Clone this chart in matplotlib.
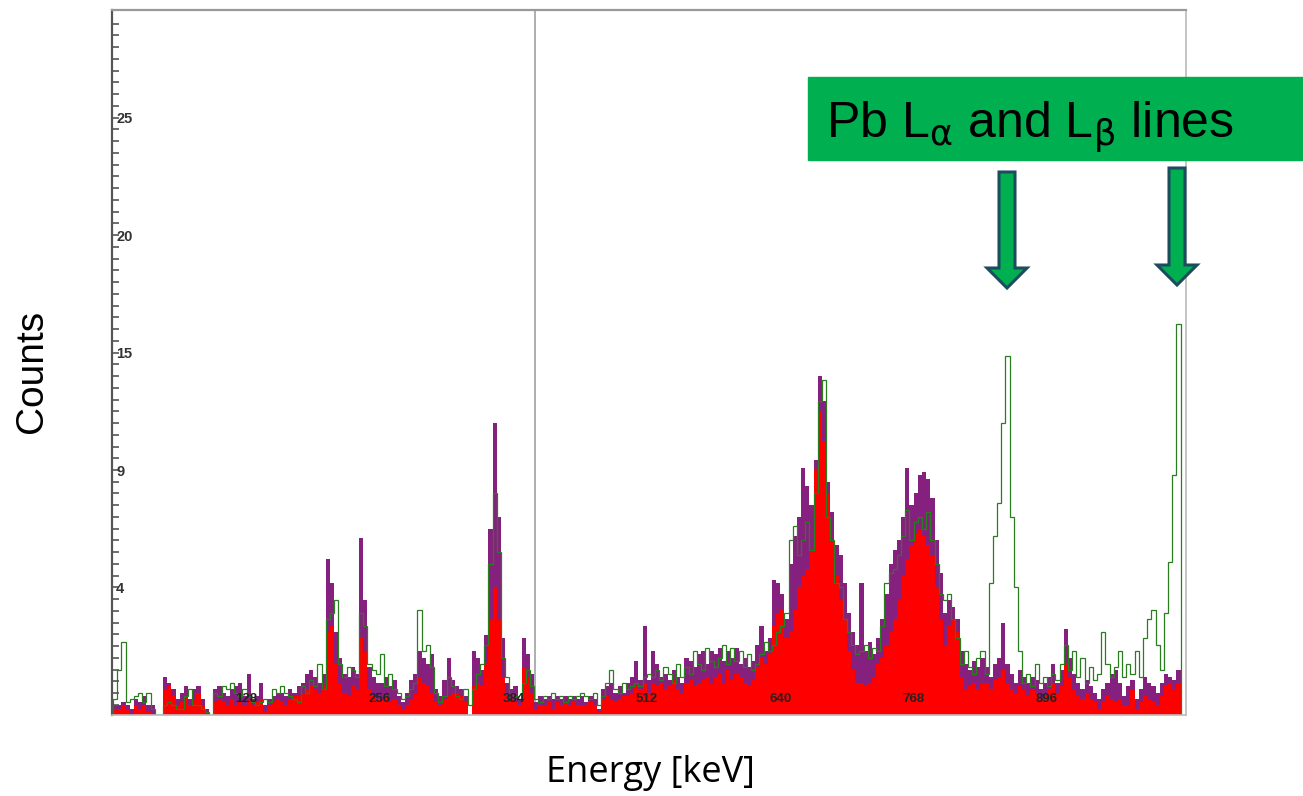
import numpy as np
import matplotlib
matplotlib.use('Agg')
import matplotlib.pyplot as plt
from matplotlib.patches import Rectangle, FancyArrow

plt.rcParams['font.family'] = ['Liberation Sans', 'DejaVu Sans']
plt.rcParams['mathtext.fontset'] = 'dejavusans'

# spectrum, 4 channels per bin (256 bins = 1024 channels), counts
red_counts = [
    .2, .2, .3, .2, 0, .3, .2, .3, .1, 0, 0, 0, .8, .9, .6, .3,
    .4, .6, .3, .5, .7, .3, .1, 0, .4, .5, .4, .3, .5, .3, .4, .3,
    .5, .3, .4, .5, .1, .3, .4, .5, .4, .3, .5, .6, .6, .7, .8, .9,
    .8, .7, .9, 2.6, 2.8, 1.6, 1.0, .7, .6, .9, .8, 2.4, 2.0, .8, .6, .5,
    .5, .6, .4, .5, .3, .2, .3, .5, .7, 1.2, 1.0, .9, .7, .4, .3, .5,
    .6, .7, .7, .6, .4, 0, .9, 1.0, .9, 1.6, 3.0, 4.0, 3.0, 1.2, .6, .5,
    .4, .3, 1.5, 1.2, .7, .2, .3, .3, .4, .2, .4, .3, .4, .3, .4, .3,
    .3, .3, .4, .3, .1, .5, .6, .5, .4, .5, .6, .6, .7, .9, .8, 1.0,
    .7, 1.0, .9, 1.0, .8, .9, 1.1, .8, .7, 1.0, 1.1, .9, 1.0, 1.1, 1.2, 1.0,
    1.2, 1.3, 1.0, 1.4, 1.1, 1.3, 1.2, 1.0, .9, 1.1, 1.5, 1.8, 1.6, 1.9, 2.8, 3.2,
    3.3, 2.4, 2.6, 3.3, 4.0, 4.5, 4.8, 5.6, 9.0, 12.0, 10.5, 8.0, 6.0, 4.5, 3.6, 3.0,
    2.0, 1.4, 1.0, 1.0, .9, 1.0, 1.2, 1.6, 1.8, 2.2, 2.6, 3.0, 3.6, 4.5, 5.2, 5.8,
    6.3, 6.5, 6.2, 5.8, 5.4, 4.0, 3.0, 2.2, 2.8, 3.0, 2.6, 1.2, .8, .9, 1.0, .8,
    1.0, 1.0, .8, 1.1, 1.2, 1.4, 1.0, .8, .7, .9, .8, .6, .8, .7, .5, .6,
    .8, 1.0, .7, .9, 1.6, 1.2, .8, .6, .5, .7, .5, .4, .2, .4, .6, .5,
    .4, .5, .3, .3, .8, .2, .4, .6, .5, .4, .3, .6, .9, 1.0, .8, 1.0,
]
purple_counts = [
    .3, .3, .4, .3, .2, .5, .4, .6, .3, .3, 0, 0, 1.2, 1.0, .8, .5,
    .7, .9, .5, .8, .9, .5, .2, 0, .8, .9, .7, .6, .8, .9, 1.0, .6,
    1.3, .5, .6, 1.0, .3, .5, .6, .7, .7, .6, .8, .7, .9, 1.0, 1.3, 1.4,
    1.2, 1.0, 1.3, 5.2, 4.2, 2.6, 1.8, 1.3, 1.2, 1.5, 1.3, 6.1, 3.6, 1.5, 1.2, 1.0,
    1.0, 1.2, .9, 1.1, .6, .4, .7, 1.1, 1.3, 2.0, 1.8, 1.6, 1.9, .8, .6, 1.1,
    1.8, 1.1, .9, .8, .6, 0, 2.0, 1.8, 1.4, 2.5, 6.5, 11.4, 7.0, 2.4, 1.0, .8,
    .9, .5, 2.4, 1.9, 1.3, .4, .6, .5, .6, .5, .6, .5, .6, .5, .6, .5,
    .6, .4, .6, .5, .2, .8, .9, 1.0, .7, .9, .7, 1.0, 1.2, 1.7, 1.1, 2.8,
    1.1, 2.0, 1.6, 1.2, 1.3, 1.1, 1.4, 1.2, 1.0, 1.8, 1.7, 1.5, 1.9, 2.0, 1.6, 2.0,
    1.9, 2.1, 1.7, 2.0, 1.8, 2.1, 1.6, 1.8, 1.5, 1.7, 2.2, 2.8, 2.0, 2.4, 4.3, 4.2,
    3.8, 3.0, 5.0, 6.2, 7.0, 9.1, 8.3, 7.5, 9.5, 13.8, 12.5, 8.5, 7.2, 5.8, 5.4, 4.2,
    3.2, 2.6, 2.2, 4.2, 2.0, 2.3, 1.9, 2.4, 3.0, 3.8, 5.0, 5.6, 6.0, 7.0, 9.1, 7.5,
    8.0, 8.8, 8.9, 8.6, 7.8, 6.0, 4.6, 3.2, 3.6, 3.4, 3.0, 2.0, 1.6, 1.4, 1.7, 1.5,
    1.8, 1.5, 1.2, 1.6, 1.8, 2.9, 1.6, 1.3, 1.0, 1.4, 1.2, 1.0, 1.2, 1.1, .8, 1.0,
    1.2, 1.6, 1.0, 1.4, 2.7, 1.8, 1.3, 1.0, .8, 1.1, .9, .7, .5, .8, 1.0, 1.3,
    1.4, 1.0, .6, .9, 1.1, .5, .8, 1.2, 1.0, .9, .7, 1.0, 1.3, 1.2, 1.1, 1.4,
]
green_counts = [
    .5, 1.4, 2.3, .4, .5, .6, .7, .4, .7, .2, 0, 0, .3, .4, .3, .2,
    .2, .6, .8, .3, .3, .2, .1, 0, .7, .6, .9, .8, 1.0, .7, .6, .8,
    .6, .4, .3, .4, .5, .4, .8, .7, .9, .7, .6, .5, .4, .9, .7, 1.1,
    .9, 1.6, .8, 3.0, 3.2, 3.6, 1.6, 1.2, 1.5, 1.4, 1.2, 3.2, 2.8, 1.6, 1.4, 1.3,
    1.9, .9, 1.3, .8, .7, .5, .6, .8, 1.0, 3.3, 2.0, 2.2, 1.5, .7, .4, .6,
    1.2, .9, .6, .5, .8, .3, .8, 1.3, 1.6, 2.2, 5.0, 8.0, 5.5, 1.8, 1.2, .7,
    .6, .5, 1.0, 1.4, .9, .5, .4, .6, .5, .7, .5, .6, .4, .6, .5, .6,
    .7, .6, .5, .7, .3, .6, 1.0, 1.4, .8, .7, 1.0, .8, .9, 1.0, .9, 1.2,
    1.3, 1.2, 1.4, 1.1, 1.5, 1.3, 1.0, 1.6, 1.2, 1.5, 1.3, 2.0, 1.6, 1.4, 2.1, 1.7,
    1.5, 1.8, 2.2, 1.6, 2.1, 1.7, 2.0, 1.5, 1.9, 1.4, 1.6, 1.9, 2.3, 2.0, 2.2, 2.6,
    2.8, 3.2, 6.0, 6.6, 5.4, 6.0, 6.8, 5.6, 8.0, 12.5, 13.6, 7.0, 6.0, 4.2, 4.0, 3.0,
    2.6, 2.2, 1.9, 2.0, 2.2, 1.8, 2.1, 2.0, 2.8, 4.2, 4.6, 4.8, 5.4, 6.2, 7.3, 6.0,
    6.8, 7.0, 6.5, 7.2, 6.0, 5.0, 3.8, 3.6, 3.8, 3.0, 2.4, 1.6, 2.0, 1.5, 1.3, 1.8,
    2.0, 1.3, 4.2, 6.2, 7.6, 11.4, 14.8, 7.0, 4.0, 2.0, 1.0, 1.3, .9, 1.6, 1.0, 1.2,
    .9, 1.3, 1.1, 1.6, 2.2, 1.4, 2.0, 1.2, 1.8, 1.0, 1.5, 1.1, 1.3, 2.6, 1.6, 1.2,
    1.5, 2.0, 1.2, 1.6, 1.3, 2.0, 1.2, 2.4, 3.0, 3.3, 2.2, 1.4, 3.2, 5.1, 8.8, 16.2,
]

channel_ticks = [128, 256, 384, 512, 640, 768, 896]
count_ticks = [4, 9, 15, 20, 25]
cursor_channel = 405
channels_per_bin = 4

# the MCA program spaces its count labels evenly, so map counts onto that
scale_counts = [-4, 0, 4, 9, 15, 20, 25, 30]
scale_units = [-1.085, 0, 1.085, 2.085, 3.085, 4.085, 5.085, 6.085]


def forward(c):
    return np.interp(c, scale_counts, scale_units)


def inverse(u):
    return np.interp(u, scale_units, scale_counts)


edges = np.arange(len(red_counts) + 1) * channels_per_bin

fig = plt.figure(figsize=(13.03, 7.96), dpi=100)
ax = fig.add_axes([0.086, 0.1018, 0.824, 0.8856])
ax.set_yscale('function', functions=(forward, inverse))

ax.axvline(cursor_channel, color='#a8a8a8', lw=1.3, zorder=0.5)
ax.stairs(purple_counts, edges, fill=True, color='#86207f', zorder=1)
ax.stairs(red_counts, edges, fill=True, color='#ff0000', zorder=1.1)
ax.stairs(green_counts, edges, color='#2a7d1e', lw=0.9, zorder=1.2)

ax.set_xlim(-1, 1029)
ax.set_ylim(0, inverse(6.0))

# y ticks inside the frame, labels next to them
ax.set_yticks(count_ticks)
ax.set_yticklabels([str(v) for v in count_ticks])
ax.set_yticks(inverse(np.arange(0.085, 5.95, 0.1)), minor=True)
ax.tick_params(axis='y', which='both', direction='in', length=5, width=1.2,
               color='#555555', labelsize=10.5, labelcolor='#333333', pad=-3)
for t in ax.get_yticklabels():
    t.set_horizontalalignment('left')
    t.set_fontweight('bold')

# channel numbers printed just above the baseline
ax.set_xticks(channel_ticks)
ax.set_xticklabels([str(v) for v in channel_ticks])
ax.tick_params(axis='x', length=0, pad=-16, labelsize=9.5, labelcolor='#222222')
for t in ax.get_xticklabels():
    t.set_fontweight('bold')

ax.spines['left'].set_color('#555555')
ax.spines['left'].set_linewidth(1.6)
ax.spines['top'].set_color('#999999')
ax.spines['top'].set_linewidth(1.6)
ax.spines['right'].set_color('#bbbbbb')
ax.spines['right'].set_linewidth(1.2)
ax.spines['bottom'].set_color('#bbbbbb')
ax.spines['bottom'].set_linewidth(1.2)

fig.text(0.0246, 0.533, 'Counts', rotation=90, fontsize=28,
         ha='center', va='center')
fig.text(0.499, 0.029, 'Energy [keV]', fontsize=26, family='Open Sans',
         ha='center', va='center')

# annotation box and arrows
fig.add_artist(Rectangle((808 / 1303, 636 / 796), 495 / 1303, 83 / 796,
                         transform=fig.transFigure, color='#00b050', zorder=5))
fig.text(826 / 1303, 658 / 796,
         r'Pb L$_{\mathrm{\alpha}}$ and L$_{\mathrm{\beta}}$ lines',
         fontsize=36, va='baseline', ha='left', zorder=6)

for x, y0, y1 in [(10.07, 6.24, 5.08), (11.77, 6.28, 5.11)]:
    fig.add_artist(FancyArrow(x, y0, 0, y1 - y0, width=0.16, head_width=0.40,
                              head_length=0.20, length_includes_head=True,
                              transform=fig.dpi_scale_trans, fc='#00b050',
                              ec='#1c4d5e', lw=2.2, zorder=6))

fig.savefig('out.png', dpi=100)
